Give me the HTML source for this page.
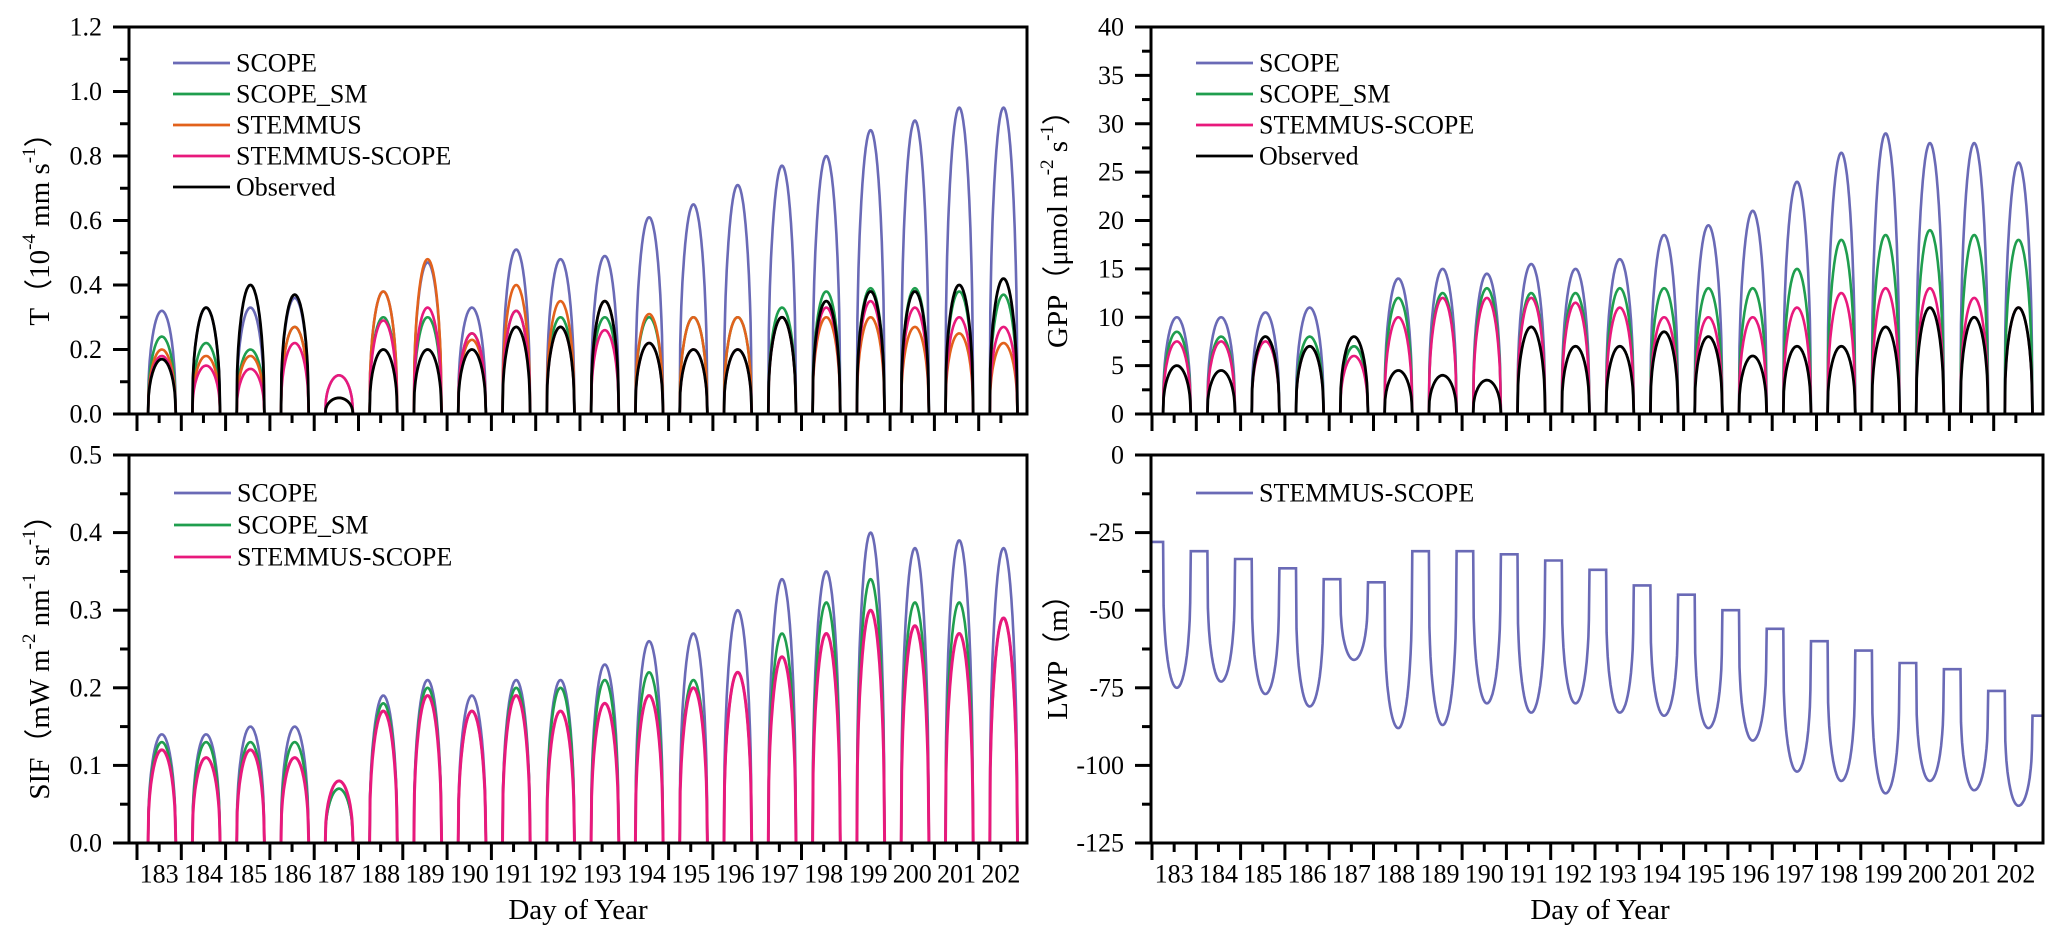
<!DOCTYPE html>
<html><head><meta charset="utf-8"><style>
html,body{margin:0;padding:0;background:#fff;}
svg{display:block;font-family:"Liberation Serif",serif;}
</style></head><body>
<svg id="fig" width="2067" height="945" viewBox="0 0 2067 945" xmlns="http://www.w3.org/2000/svg"></svg>
<script>
// ---- data: days and per-day peak values ----
const days = [183,184,185,186,187,188,189,190,191,192,193,194,195,196,197,198,199,200,201,202];
const tScope   = [0.32,0.33,0.33,0.36,0.12,0.38,0.47,0.33,0.51,0.48,0.49,0.61,0.65,0.71,0.77,0.80,0.88,0.91,0.95,0.95];
const tScopeSM = [0.24,0.22,0.20,0.27,0.05,0.30,0.30,0.25,0.32,0.30,0.30,0.30,0.30,0.30,0.33,0.38,0.39,0.39,0.38,0.37];
const tStemmus = [0.20,0.18,0.18,0.27,0.05,0.38,0.48,0.23,0.40,0.35,0.35,0.31,0.30,0.30,0.30,0.30,0.30,0.27,0.25,0.22];
const tSS      = [0.18,0.15,0.14,0.22,0.12,0.29,0.33,0.25,0.32,0.27,0.26,0.22,0.20,0.20,0.30,0.33,0.35,0.33,0.30,0.27];
const tObs     = [0.17,0.33,0.40,0.37,0.05,0.20,0.20,0.20,0.27,0.27,0.35,0.22,0.20,0.20,0.30,0.35,0.38,0.38,0.40,0.42];
const gScope   = [10,10,10.5,11,7,14,15,14.5,15.5,15,16,18.5,19.5,21,24,27,29,28,28,26];
const gScopeSM = [8.5,8,8,8,7,12,12.5,13,12.5,12.5,13,13,13,13,15,18,18.5,19,18.5,18];
const gSS      = [7.5,7.5,7.5,7,6,10,12,12,12,11.5,11,10,10,10,11,12.5,13,13,12,11];
const gObs     = [5,4.5,8,7,8,4.5,4,3.5,9,7,7,8.5,8,6,7,7,9,11,10,11];
const sScope   = [0.14,0.14,0.15,0.15,0.07,0.19,0.21,0.19,0.21,0.21,0.23,0.26,0.27,0.30,0.34,0.35,0.40,0.38,0.39,0.38];
const sScopeSM = [0.13,0.13,0.13,0.13,0.07,0.18,0.20,0.17,0.20,0.20,0.21,0.22,0.21,0.22,0.27,0.31,0.34,0.31,0.31,0.29];
const sSS      = [0.12,0.11,0.12,0.11,0.08,0.17,0.19,0.17,0.19,0.17,0.18,0.19,0.20,0.22,0.24,0.27,0.30,0.28,0.27,0.29];
const lwpNight = [-28,-31,-33.5,-36.5,-40,-41,-31,-31,-32,-34,-37,-42,-45,-50,-56,-60,-63,-67,-69,-76,-84];
const lwpMin   = [-75,-73,-77,-81,-66,-88,-87,-80,-83,-80,-83,-84,-88,-92,-102,-105,-109,-105,-108,-113];
const tTicks = ["0.0","0.2","0.4","0.6","0.8","1.0","1.2"];
const gTicks = ["0","5","10","15","20","25","30","35","40"];
const sTicks = ["0.0","0.1","0.2","0.3","0.4","0.5"];
const lTicks = ["-125","-100","-75","-50","-25","0"];

const NS="http://www.w3.org/2000/svg";
const svg=document.getElementById('fig');
function mk(tag,attrs,parent){const e=document.createElementNS(NS,tag);for(const k in attrs)e.setAttribute(k,attrs[k]);(parent||svg).appendChild(e);return e;}
const COL={scope:"#6a6ab6",sm:"#1f9e4e",stemmus:"#e2621c",ss:"#e8197c",obs:"#000"};
const DAYW=44.3;
const RISE=0.25, SET=0.87;
function shape(t,ex){ if(t<=RISE||t>=SET) return 0; return Math.pow(Math.sin(Math.PI*(t-RISE)/(SET-RISE)),ex||0.4); }

function panel(cfg){
  const g=mk('g',{});
  
  
  const xS=d=>cfg.x183+(d-183)*DAYW;
  const yS=v=>cfg.bottom-(v-cfg.ymin)/(cfg.ymax-cfg.ymin)*(cfg.bottom-cfg.top);
  cfg.xS=xS; cfg.yS=yS; cfg.g=g;
  return cfg;
}
function axes(p,tickLabels,minorStep,majorStep,showX){
  const g=p.g, L=p.spine, R=p.right, T=p.top, B=p.bottom;
  const fr=mk('path',{d:`M${L-14},${B}H${R}V${T}H${L-14}M${L},${T}V${B}`,fill:'none',stroke:'#000','stroke-width':3},g);
   
  for(let v=p.ymin; v<=p.ymax+1e-9; v+=minorStep){
    const isMaj=Math.abs(Math.round((v-p.ymin)/majorStep)*majorStep-(v-p.ymin))<1e-6;
    const y=p.yS(v);
    const tk=mk('line',{x1:L,x2:L-(isMaj?16:9),y1:y,y2:y,stroke:'#000','stroke-width':3},g);
     
  }
  tickLabels.forEach((lab,i)=>{
    const v=p.ymin+i*majorStep;
    const t=mk('text',{x:L-27,y:p.yS(v),'text-anchor':'end','dominant-baseline':'central','font-size':26,fill:'#000'},g);
    t.textContent=lab;
     
  });
  days.forEach(d=>{
    const x=p.xS(d);
    const a=mk('line',{x1:x,x2:x,y1:B,y2:B+17,stroke:'#000','stroke-width':3},g);
     
    const xm=p.xS(d+0.5);
    const b=mk('line',{x1:xm,x2:xm,y1:B,y2:B+9,stroke:'#000','stroke-width':3},g);
     
    if(showX){
      const t=mk('text',{x:xm,y:B+31,'text-anchor':'middle','dominant-baseline':'central','font-size':26,fill:'#000'},g);
      t.textContent=d;
       
    }
  });
}
function diurnal(p,peaks,color,name,w){
  const pts=[];
  const start=183-(p.x183-p.spine)/DAYW;
  pts.push([p.xS(start),p.yS(0)]);
  peaks.forEach((pk,i)=>{
    const d=days[i];
    for(let k=0;k<=80;k++){const t=k/80; pts.push([p.xS(d+t),p.yS(pk*shape(t))]);}
  });
  const pl=mk('polyline',{points:pts.map(q=>q[0].toFixed(1)+','+q[1].toFixed(1)).join(' '),fill:'none',stroke:color,'stroke-width':w||2.6,'stroke-linejoin':'round'},p.g);
   
}
function legend(p,x,y0,dy,items,fs){
  items.forEach((it,i)=>{
    const y=y0+i*dy;
    const l=mk('line',{x1:x,x2:x+57,y1:y,y2:y,stroke:it[1],'stroke-width':2.8},p.g);
     
    const t=mk('text',{x:x+63,y:y,'dominant-baseline':'central','font-size':fs||26,fill:'#000'},p.g);
    t.textContent=it[0];
     
  });
}
function ytitle(p,x,y,parts){
  const t=mk('text',{x:0,y:0,transform:`translate(${x},${y}) rotate(-90)`,'text-anchor':'middle','dominant-baseline':'central','font-size':29,fill:'#000'},p.g);
  parts.forEach(pt=>{
    const s=mk('tspan',{},t);
    if(pt[1]){s.setAttribute('baseline-shift','super');s.setAttribute('font-size','19');}
    s.textContent=pt[0];
  });
   
}

// ---- Panel T ----
const pT=panel({name:'transpiration-panel',spine:129,x183:137,right:1027,top:27,bottom:414,ymin:0,ymax:1.2});
diurnal(pT,tScope,COL.scope,'t-scope-line');
diurnal(pT,tScopeSM,COL.sm,'t-scope-sm-line');
diurnal(pT,tStemmus,COL.stemmus,'t-stemmus-line');
diurnal(pT,tSS,COL.ss,'t-stemmus-scope-line');
diurnal(pT,tObs,COL.obs,'t-observed-line',2.8);
axes(pT,tTicks,0.1,0.2,false);
legend(pT,173,63,31,[["SCOPE",COL.scope],["SCOPE_SM",COL.sm],["STEMMUS",COL.stemmus],["STEMMUS-SCOPE",COL.ss],["Observed",COL.obs]]);
ytitle(pT,40,222,[["T（10"],["-4",1],[" mm s"],["-1",1],["）"]]);

// ---- Panel GPP ----
const pG=panel({name:'gpp-panel',spine:1151,x183:1152,right:2043,top:27,bottom:414,ymin:0,ymax:40});
diurnal(pG,gScope,COL.scope,'gpp-scope-line');
diurnal(pG,gScopeSM,COL.sm,'gpp-scope-sm-line');
diurnal(pG,gSS,COL.ss,'gpp-stemmus-scope-line');
diurnal(pG,gObs,COL.obs,'gpp-observed-line',2.8);
axes(pG,gTicks,2.5,5,false);
legend(pG,1196,63,31,[["SCOPE",COL.scope],["SCOPE_SM",COL.sm],["STEMMUS-SCOPE",COL.ss],["Observed",COL.obs]]);
ytitle(pG,1058,222,[["GPP（μmol m"],["-2",1],[" s"],["-1",1],["）"]]);

// ---- Panel SIF ----
const pS=panel({name:'sif-panel',spine:129,x183:137,right:1027,top:455,bottom:843,ymin:0,ymax:0.5});
diurnal(pS,sScope,COL.scope,'sif-scope-line');
diurnal(pS,sScopeSM,COL.sm,'sif-scope-sm-line');
diurnal(pS,sSS,COL.ss,'sif-stemmus-scope-line',3);
axes(pS,sTicks,0.05,0.1,true);
legend(pS,174,493,32,[["SCOPE",COL.scope],["SCOPE_SM",COL.sm],["STEMMUS-SCOPE",COL.ss]]);
ytitle(pS,40,650,[["SIF（mW m"],["-2",1],[" nm"],["-1",1],[" sr"],["-1",1],["）"]]);

// ---- Panel LWP ----
const pL=panel({name:'lwp-panel',spine:1151,x183:1152,right:2043,top:455,bottom:843,ymin:-125,ymax:0});
(function(){
  const pts=[];
  days.forEach((d,i)=>{
    for(let k=0;k<=80;k++){
      const t=k/80;
      const base=t<0.55?lwpNight[i]:lwpNight[i+1];
      const v=base+(lwpMin[i]-base)*shape(t,0.3);
      pts.push([pL.xS(d+t),pL.yS(v)]);
    }
  });
  pts.unshift([pL.spine,pL.yS(lwpNight[0])]);
  pts.push([pL.right,pL.yS(lwpNight[20])]);
  const pl=mk('polyline',{points:pts.map(q=>q[0].toFixed(1)+','+q[1].toFixed(1)).join(' '),fill:'none',stroke:COL.scope,'stroke-width':2.6},pL.g);
   
})();
axes(pL,lTicks,12.5,25,true);
legend(pL,1196,493,32,[["STEMMUS-SCOPE",COL.scope]]);
ytitle(pL,1058,650,[["LWP（m）"]]);

[[578,'x-axis-title-left'],[1600,'x-axis-title-right']].forEach(a=>{
  const t=mk('text',{x:a[0],y:910,'text-anchor':'middle','dominant-baseline':'central','font-size':29,fill:'#000'});
  t.textContent= a[1]==='x-axis-title-left' ? 'Day of Year' : 'Day of  Year';
  
  
});
</script>
</body></html>
